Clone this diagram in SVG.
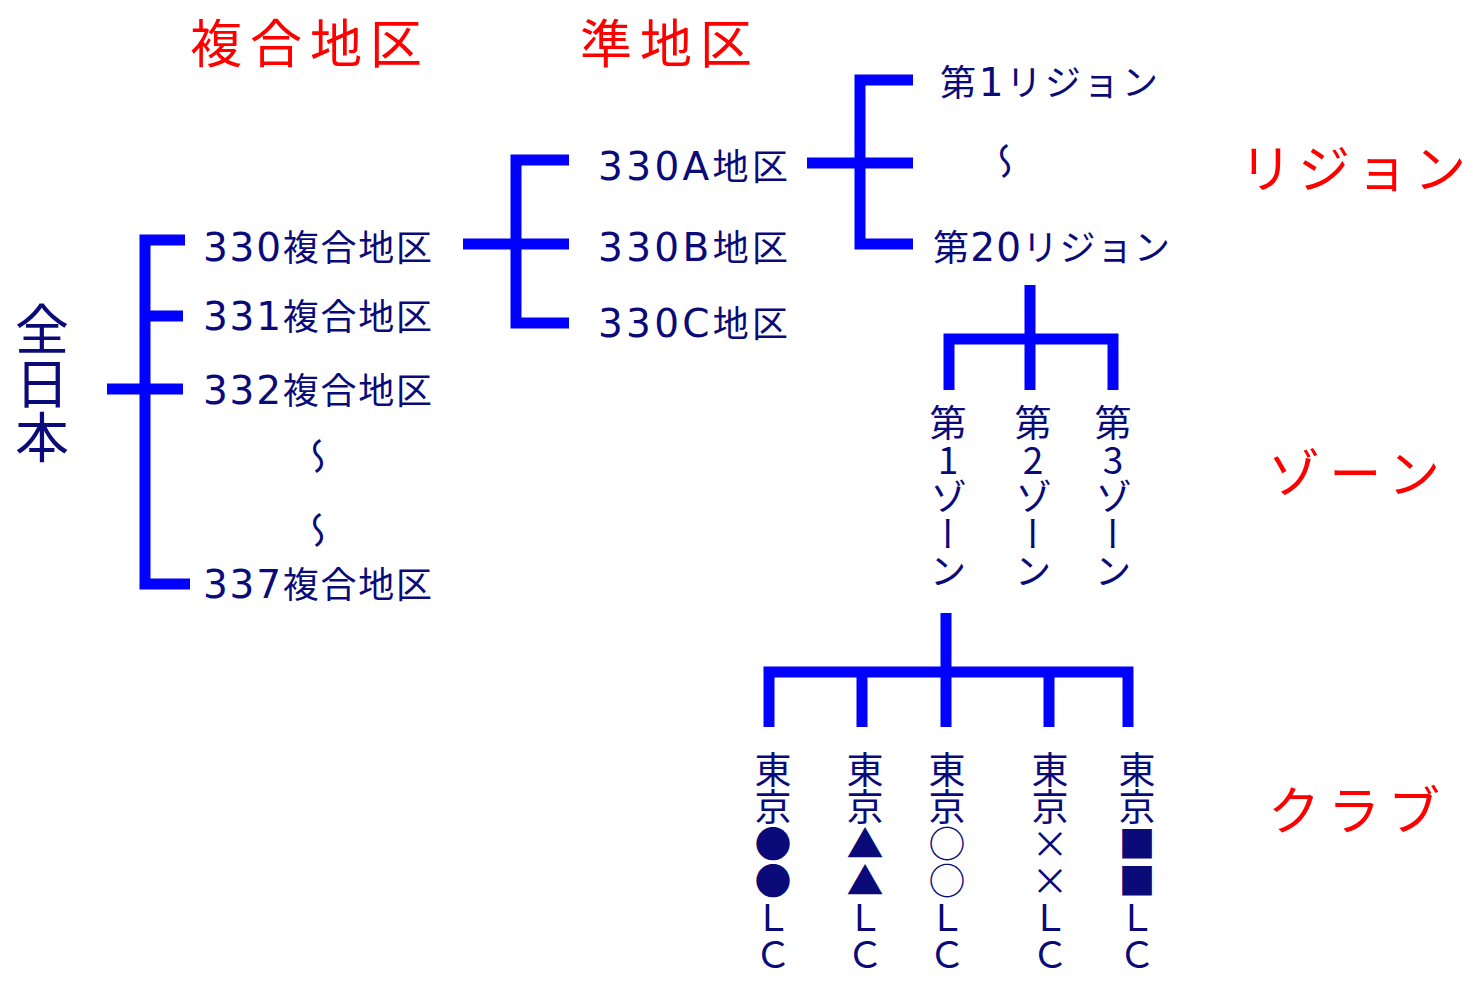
<svg xmlns="http://www.w3.org/2000/svg" width="1470" height="983" viewBox="0 0 1470 983">
<style>
.hd{font-family:"Noto Sans CJK JP","Noto Sans CJK SC",sans-serif;font-size:52px;fill:#ff0000;}
.t{font-family:"Noto Sans CJK JP","Noto Sans CJK SC",sans-serif;font-size:36px;fill:#0a0a78;}
.la{font-family:"DejaVu Sans","Noto Sans CJK JP",sans-serif;font-size:39px;}
.v{font-family:"Noto Sans CJK JP","Noto Sans CJK SC",sans-serif;font-size:37px;fill:#0a0a78;writing-mode:vertical-rl;text-orientation:upright;}
.big{font-size:54px;}
.ln{fill:none;stroke:#0000ff;stroke-width:11;stroke-linejoin:miter;stroke-linecap:butt;}
</style>
<rect width="1470" height="983" fill="#ffffff"/>
<g id="headers">
<text class="hd" x="190" y="63" textLength="232" lengthAdjust="spacing">複合地区</text>
<text class="hd" x="580" y="63" textLength="172" lengthAdjust="spacing">準地区</text>
<text class="hd" x="1240" y="188" textLength="226" lengthAdjust="spacing">リジョン</text>
<text class="hd" x="1268" y="493" textLength="172" lengthAdjust="spacing">ゾーン</text>
<text class="hd" x="1268" y="830" textLength="172" lengthAdjust="spacing">クラブ</text>
</g>
<g id="connectors">
<path class="ln" d="M185 240 H145 V584 H190"/>
<path class="ln" d="M145 316 H183"/>
<path class="ln" d="M107 389 H183"/>
<path class="ln" d="M569 160 H516 V323 H569"/>
<path class="ln" d="M463 244 H569"/>
<path class="ln" d="M913 80 H860 V244 H913"/>
<path class="ln" d="M807 163 H913"/>
<path class="ln" d="M949 390 V339 H1113 V390"/>
<path class="ln" d="M1030 285 V390"/>
<path class="ln" d="M769 727 V672 H1128 V727"/>
<path class="ln" d="M946 613 V727"/>
<path class="ln" d="M862 672 V727"/>
<path class="ln" d="M1049 672 V727"/>
</g>
<g id="node-zennihon"><text class="v big" x="42" y="302">全日本</text></g>
<g id="node-330f"><text class="t" x="203" y="261" textLength="229" lengthAdjust="spacing"><tspan class="la">330</tspan>複合地区</text></g>
<g id="node-331f"><text class="t" x="203" y="330" textLength="229" lengthAdjust="spacing"><tspan class="la">331</tspan>複合地区</text></g>
<g id="node-332f"><text class="t" x="203" y="404" textLength="229" lengthAdjust="spacing"><tspan class="la">332</tspan>複合地区</text></g>
<g id="node-ellipsis1"><text class="v" x="318" y="437">〜</text></g>
<g id="node-ellipsis2"><text class="v" x="318" y="511">〜</text></g>
<g id="node-337f"><text class="t" x="203" y="598" textLength="229" lengthAdjust="spacing"><tspan class="la">337</tspan>複合地区</text></g>
<g id="node-330a"><text class="t" x="598" y="180" textLength="190" lengthAdjust="spacing"><tspan class="la">330A</tspan>地区</text></g>
<g id="node-330b"><text class="t" x="598" y="261" textLength="190" lengthAdjust="spacing"><tspan class="la">330B</tspan>地区</text></g>
<g id="node-330c"><text class="t" x="598" y="337" textLength="190" lengthAdjust="spacing"><tspan class="la">330C</tspan>地区</text></g>
<g id="node-r1"><text class="t" x="940" y="96" textLength="218" lengthAdjust="spacing">第<tspan class="la">1</tspan>リジョン</text></g>
<g id="node-ellipsis3"><text class="v" x="1005" y="142">〜</text></g>
<g id="node-r20"><text class="t" x="933" y="261" textLength="237" lengthAdjust="spacing">第<tspan class="la">20</tspan>リジョン</text></g>
<g id="node-z1"><text class="v" x="948" y="404">第1ゾーン</text></g>
<g id="node-z2"><text class="v" x="1033" y="404">第2ゾーン</text></g>
<g id="node-z3"><text class="v" x="1113" y="404">第3ゾーン</text></g>
<g id="node-c1"><text class="v" x="773" y="751">東京●●ＬＣ</text></g>
<g id="node-c2"><text class="v" x="865" y="751">東京▲▲ＬＣ</text></g>
<g id="node-c3"><text class="v" x="947" y="751">東京○○ＬＣ</text></g>
<g id="node-c4"><text class="v" x="1050" y="751">東京××ＬＣ</text></g>
<g id="node-c5"><text class="v" x="1137" y="751">東京■■ＬＣ</text></g>
</svg>
